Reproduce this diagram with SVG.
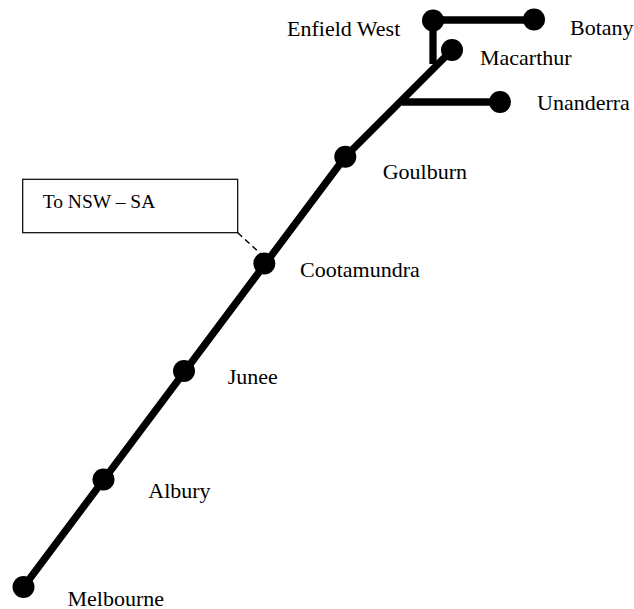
<svg xmlns="http://www.w3.org/2000/svg" width="634" height="609" viewBox="0 0 634 609">
<style>
.track{fill:none;stroke:#000;stroke-width:7.3;stroke-linejoin:round}
.stn{fill:#000}
.lbl{font-family:"Liberation Serif","Times New Roman",serif;font-size:22px;fill:#000}
.box{fill:#fff;stroke:#000;stroke-width:1.2}
.note{font-family:"Liberation Serif","Times New Roman",serif;font-size:19.5px;fill:#000}
.lead{fill:none;stroke:#000;stroke-width:1.5;stroke-dasharray:6 4}
</style>
<rect width="634" height="609" fill="#fff"/>
<g id="connectors">
<polyline class="track" points="23.5,587 345.5,156.5 452,50"/>
<line class="track" x1="402" y1="102" x2="500" y2="102"/>
<line class="track" x1="433" y1="20" x2="534" y2="20"/>
<line class="track" x1="433" y1="20" x2="433" y2="64" style="stroke-linecap:butt"/>
<line class="lead" x1="237.7" y1="232.7" x2="262" y2="255"/>
</g>
<g id="melbourne"><circle class="stn" cx="23.5" cy="587" r="11"/><text class="lbl" x="67.5" y="605.5">Melbourne</text></g>
<g id="albury"><circle class="stn" cx="103.5" cy="479.5" r="11"/><text class="lbl" x="148.3" y="497.5">Albury</text></g>
<g id="junee"><circle class="stn" cx="184" cy="371" r="11"/><text class="lbl" x="227.7" y="383.5">Junee</text></g>
<g id="cootamundra"><circle class="stn" cx="264.3" cy="263.5" r="11"/><text class="lbl" x="300" y="277">Cootamundra</text></g>
<g id="goulburn"><circle class="stn" cx="345.3" cy="156.7" r="11"/><text class="lbl" x="382.7" y="179.3">Goulburn</text></g>
<g id="macarthur"><circle class="stn" cx="452" cy="50" r="11"/><text class="lbl" x="480" y="64.5">Macarthur</text></g>
<g id="unanderra"><circle class="stn" cx="500" cy="102" r="11"/><text class="lbl" x="537" y="110">Unanderra</text></g>
<g id="enfield-west"><circle class="stn" cx="433" cy="20.5" r="11"/><text class="lbl" x="287" y="35.5">Enfield West</text></g>
<g id="botany"><circle class="stn" cx="534" cy="19.5" r="11"/><text class="lbl" x="570" y="35">Botany</text></g>
<g id="note-box"><rect class="box" x="22.7" y="179.3" width="215" height="53.4"/><text class="note" x="42.7" y="208.3">To NSW – SA</text></g>
</svg>
